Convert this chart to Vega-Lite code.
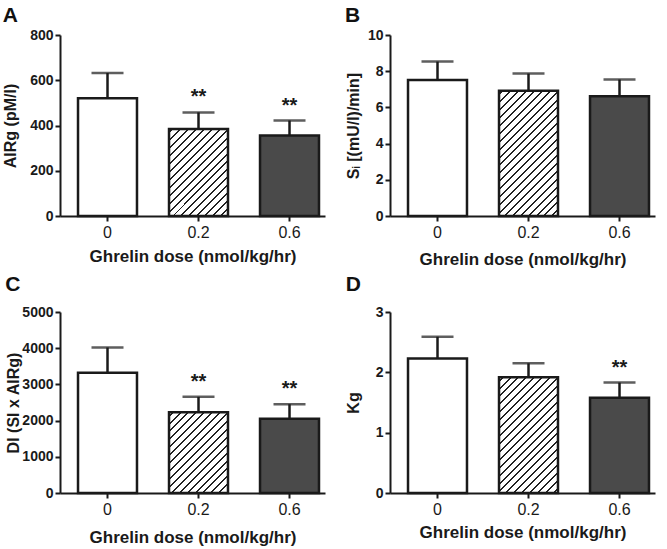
{
  "$schema": "https://vega.github.io/schema/vega-lite/v6.json",
  "padding": {"left": 2, "top": 5, "right": 5, "bottom": 0},
  "params": [
    {"name": "hs", "value": [
      {"offset": 0, "color": "white"},
      {"offset": 0.015, "color": "white"}, {"offset": 0.015, "color": "#222"}, {"offset": 0.025, "color": "#222"}, {"offset": 0.025, "color": "white"},
      {"offset": 0.055, "color": "white"}, {"offset": 0.055, "color": "#222"}, {"offset": 0.065, "color": "#222"}, {"offset": 0.065, "color": "white"},
      {"offset": 0.095, "color": "white"}, {"offset": 0.095, "color": "#222"}, {"offset": 0.105, "color": "#222"}, {"offset": 0.105, "color": "white"},
      {"offset": 0.135, "color": "white"}, {"offset": 0.135, "color": "#222"}, {"offset": 0.145, "color": "#222"}, {"offset": 0.145, "color": "white"},
      {"offset": 0.175, "color": "white"}, {"offset": 0.175, "color": "#222"}, {"offset": 0.185, "color": "#222"}, {"offset": 0.185, "color": "white"},
      {"offset": 0.215, "color": "white"}, {"offset": 0.215, "color": "#222"}, {"offset": 0.225, "color": "#222"}, {"offset": 0.225, "color": "white"},
      {"offset": 0.255, "color": "white"}, {"offset": 0.255, "color": "#222"}, {"offset": 0.265, "color": "#222"}, {"offset": 0.265, "color": "white"},
      {"offset": 0.295, "color": "white"}, {"offset": 0.295, "color": "#222"}, {"offset": 0.305, "color": "#222"}, {"offset": 0.305, "color": "white"},
      {"offset": 0.335, "color": "white"}, {"offset": 0.335, "color": "#222"}, {"offset": 0.345, "color": "#222"}, {"offset": 0.345, "color": "white"},
      {"offset": 0.375, "color": "white"}, {"offset": 0.375, "color": "#222"}, {"offset": 0.385, "color": "#222"}, {"offset": 0.385, "color": "white"},
      {"offset": 0.415, "color": "white"}, {"offset": 0.415, "color": "#222"}, {"offset": 0.425, "color": "#222"}, {"offset": 0.425, "color": "white"},
      {"offset": 0.455, "color": "white"}, {"offset": 0.455, "color": "#222"}, {"offset": 0.465, "color": "#222"}, {"offset": 0.465, "color": "white"},
      {"offset": 0.495, "color": "white"}, {"offset": 0.495, "color": "#222"}, {"offset": 0.505, "color": "#222"}, {"offset": 0.505, "color": "white"},
      {"offset": 0.535, "color": "white"}, {"offset": 0.535, "color": "#222"}, {"offset": 0.545, "color": "#222"}, {"offset": 0.545, "color": "white"},
      {"offset": 0.575, "color": "white"}, {"offset": 0.575, "color": "#222"}, {"offset": 0.585, "color": "#222"}, {"offset": 0.585, "color": "white"},
      {"offset": 0.615, "color": "white"}, {"offset": 0.615, "color": "#222"}, {"offset": 0.625, "color": "#222"}, {"offset": 0.625, "color": "white"},
      {"offset": 0.655, "color": "white"}, {"offset": 0.655, "color": "#222"}, {"offset": 0.665, "color": "#222"}, {"offset": 0.665, "color": "white"},
      {"offset": 0.695, "color": "white"}, {"offset": 0.695, "color": "#222"}, {"offset": 0.705, "color": "#222"}, {"offset": 0.705, "color": "white"},
      {"offset": 0.735, "color": "white"}, {"offset": 0.735, "color": "#222"}, {"offset": 0.745, "color": "#222"}, {"offset": 0.745, "color": "white"},
      {"offset": 0.775, "color": "white"}, {"offset": 0.775, "color": "#222"}, {"offset": 0.785, "color": "#222"}, {"offset": 0.785, "color": "white"},
      {"offset": 0.815, "color": "white"}, {"offset": 0.815, "color": "#222"}, {"offset": 0.825, "color": "#222"}, {"offset": 0.825, "color": "white"},
      {"offset": 0.855, "color": "white"}, {"offset": 0.855, "color": "#222"}, {"offset": 0.865, "color": "#222"}, {"offset": 0.865, "color": "white"},
      {"offset": 0.895, "color": "white"}, {"offset": 0.895, "color": "#222"}, {"offset": 0.905, "color": "#222"}, {"offset": 0.905, "color": "white"},
      {"offset": 0.935, "color": "white"}, {"offset": 0.935, "color": "#222"}, {"offset": 0.945, "color": "#222"}, {"offset": 0.945, "color": "white"},
      {"offset": 0.975, "color": "white"}, {"offset": 0.975, "color": "#222"}, {"offset": 0.985, "color": "#222"}, {"offset": 0.985, "color": "white"},
      {"offset": 1, "color": "white"}
    ]}
  ],
  "config": {
    "font": "Liberation Sans",
    "view": {"stroke": null},
    "title": {"anchor": "start", "frame": "bounds", "fontSize": 21, "fontWeight": "bold", "font": "Liberation Sans", "color": "#111", "offset": 2},
    "axis": {"grid": false, "domainColor": "#1a1a1a", "domainWidth": 2, "tickColor": "#1a1a1a", "tickWidth": 2, "tickSize": 5, "labelColor": "#1a1a1a", "titleColor": "#1a1a1a", "labelFont": "Liberation Sans", "titleFont": "Liberation Sans"}
  },
  "datasets": {
    "d": [
      {"panel": "A", "dose": "0", "value": 520, "err": 632, "sig": ""},
      {"panel": "A", "dose": "0.2", "value": 385, "err": 458, "sig": "**"},
      {"panel": "A", "dose": "0.6", "value": 356, "err": 422, "sig": "**"},
      {"panel": "B", "dose": "0", "value": 7.51, "err": 8.53, "sig": ""},
      {"panel": "B", "dose": "0.2", "value": 6.92, "err": 7.87, "sig": ""},
      {"panel": "B", "dose": "0.6", "value": 6.61, "err": 7.54, "sig": ""},
      {"panel": "C", "dose": "0", "value": 3324, "err": 4020, "sig": ""},
      {"panel": "C", "dose": "0.2", "value": 2234, "err": 2656, "sig": "**"},
      {"panel": "C", "dose": "0.6", "value": 2051, "err": 2454, "sig": "**"},
      {"panel": "D", "dose": "0", "value": 2.23, "err": 2.59, "sig": ""},
      {"panel": "D", "dose": "0.2", "value": 1.92, "err": 2.15, "sig": ""},
      {"panel": "D", "dose": "0.6", "value": 1.58, "err": 1.83, "sig": "**"}
    ]
  },
  "columns": 2,
  "spacing": {"row": 6, "column": 20},
  "concat": [
    {
      "width": 265, "height": 181,
      "title": {"text": "A"},
      "data": {"name": "d"},
      "transform": [{"filter": "datum.panel === 'A'"}],
      "encoding": {
        "x": {"field": "dose", "type": "nominal", "sort": ["0", "0.2", "0.6"], "scale": {"paddingInner": 0.352, "paddingOuter": 0.132, "align": 0.75},
              "axis": {"title": "Ghrelin dose (nmol/kg/hr)", "titlePadding": 8, "labelFontSize": 16, "labelFontWeight": "normal", "labelPadding": 3, "labelAngle": 0, "titleFontSize": 17, "titleFontWeight": "bold"}}
      },
      "layer": [
        {"mark": {"type": "bar", "stroke": "#1a1a1a", "strokeWidth": 2.5},
         "encoding": {
           "y": {"field": "value", "type": "quantitative", "title": "AIRg (pM/l)", "scale": {"domain": [0, 800], "nice": false},
                 "axis": {"values": [0, 200, 400, 600, 800], "format": "d", "titlePadding": 10.8, "labelFontSize": 14, "labelFontWeight": "bold", "labelPadding": 2, "titleFontSize": 16, "titleFontWeight": "bold"}},
           "fill": {"condition": [{"test": "datum.dose === '0'", "value": "white"}, {"test": "datum.dose === '0.6'", "value": "#4a4a4a"}],
                    "value": {"expr": "{gradient: 'linear', x1: 0, y1: 0, x2: 1.0555, y2: 1.5582, stops: hs}"}}
         }},
        {"mark": {"type": "rule", "strokeWidth": 2.5, "color": "#1a1a1a"},
         "encoding": {"y": {"field": "value", "type": "quantitative", "title": "AIRg (pM/l)", "scale": {"domain": [0, 800], "nice": false},
                 "axis": {"values": [0, 200, 400, 600, 800], "format": "d", "titlePadding": 10.8, "labelFontSize": 14, "labelFontWeight": "bold", "labelPadding": 2, "titleFontSize": 16, "titleFontWeight": "bold"}}, "y2": {"field": "err"}}},
        {"mark": {"type": "tick", "size": 32, "thickness": 2.5, "color": "#1a1a1a"},
         "encoding": {"y": {"field": "err", "type": "quantitative", "title": "AIRg (pM/l)", "scale": {"domain": [0, 800], "nice": false},
                 "axis": {"values": [0, 200, 400, 600, 800], "format": "d", "titlePadding": 10.8, "labelFontSize": 14, "labelFontWeight": "bold", "labelPadding": 2, "titleFontSize": 16, "titleFontWeight": "bold"}}}},
        {"mark": {"type": "text", "fontSize": 20, "fontWeight": "bold", "baseline": "alphabetic", "dy": -9, "color": "#1a1a1a"},
         "encoding": {"y": {"field": "err", "type": "quantitative", "title": "AIRg (pM/l)", "scale": {"domain": [0, 800], "nice": false},
                 "axis": {"values": [0, 200, 400, 600, 800], "format": "d", "titlePadding": 10.8, "labelFontSize": 14, "labelFontWeight": "bold", "labelPadding": 2, "titleFontSize": 16, "titleFontWeight": "bold"}}, "text": {"field": "sig"}}}
      ]
    },
    {
      "width": 265, "height": 181,
      "title": {"text": "B"},
      "data": {"name": "d"},
      "transform": [{"filter": "datum.panel === 'B'"}],
      "encoding": {
        "x": {"field": "dose", "type": "nominal", "sort": ["0", "0.2", "0.6"], "scale": {"paddingInner": 0.352, "paddingOuter": 0.132, "align": 0.75},
              "axis": {"title": "Ghrelin dose (nmol/kg/hr)", "titlePadding": 11.5, "labelFontSize": 16, "labelFontWeight": "normal", "labelPadding": 3, "labelAngle": 0, "titleFontSize": 17, "titleFontWeight": "bold"}}
      },
      "layer": [
        {"mark": {"type": "bar", "stroke": "#1a1a1a", "strokeWidth": 2.5},
         "encoding": {
           "y": {"field": "value", "type": "quantitative", "title": "Sᵢ [(mU/l)/min]", "scale": {"domain": [0, 10], "nice": false},
                 "axis": {"values": [0, 2, 4, 6, 8, 10], "format": "d", "titlePadding": 6.4, "labelFontSize": 14, "labelFontWeight": "bold", "labelPadding": 2, "titleFontSize": 16, "titleFontWeight": "bold"}},
           "fill": {"condition": [{"test": "datum.dose === '0'", "value": "white"}, {"test": "datum.dose === '0.6'", "value": "#4a4a4a"}],
                    "value": {"expr": "{gradient: 'linear', x1: 0, y1: 0, x2: 0.6090, y2: 1.2934, stops: hs}"}}
         }},
        {"mark": {"type": "rule", "strokeWidth": 2.5, "color": "#1a1a1a"},
         "encoding": {"y": {"field": "value", "type": "quantitative", "title": "Sᵢ [(mU/l)/min]", "scale": {"domain": [0, 10], "nice": false},
                 "axis": {"values": [0, 2, 4, 6, 8, 10], "format": "d", "titlePadding": 6.4, "labelFontSize": 14, "labelFontWeight": "bold", "labelPadding": 2, "titleFontSize": 16, "titleFontWeight": "bold"}}, "y2": {"field": "err"}}},
        {"mark": {"type": "tick", "size": 32, "thickness": 2.5, "color": "#1a1a1a"},
         "encoding": {"y": {"field": "err", "type": "quantitative", "title": "Sᵢ [(mU/l)/min]", "scale": {"domain": [0, 10], "nice": false},
                 "axis": {"values": [0, 2, 4, 6, 8, 10], "format": "d", "titlePadding": 6.4, "labelFontSize": 14, "labelFontWeight": "bold", "labelPadding": 2, "titleFontSize": 16, "titleFontWeight": "bold"}}}},
        {"mark": {"type": "text", "fontSize": 20, "fontWeight": "bold", "baseline": "alphabetic", "dy": -9, "color": "#1a1a1a"},
         "encoding": {"y": {"field": "err", "type": "quantitative", "title": "Sᵢ [(mU/l)/min]", "scale": {"domain": [0, 10], "nice": false},
                 "axis": {"values": [0, 2, 4, 6, 8, 10], "format": "d", "titlePadding": 6.4, "labelFontSize": 14, "labelFontWeight": "bold", "labelPadding": 2, "titleFontSize": 16, "titleFontWeight": "bold"}}, "text": {"field": "sig"}}}
      ]
    },
    {
      "width": 265, "height": 181,
      "title": {"text": "C", "offset": 10},
      "data": {"name": "d"},
      "transform": [{"filter": "datum.panel === 'C'"}],
      "encoding": {
        "x": {"field": "dose", "type": "nominal", "sort": ["0", "0.2", "0.6"], "scale": {"paddingInner": 0.352, "paddingOuter": 0.132, "align": 0.75},
              "axis": {"title": "Ghrelin dose (nmol/kg/hr)", "titlePadding": 12.5, "labelFontSize": 16, "labelFontWeight": "normal", "labelPadding": 3, "labelAngle": 0, "titleFontSize": 17, "titleFontWeight": "bold"}}
      },
      "layer": [
        {"mark": {"type": "bar", "stroke": "#1a1a1a", "strokeWidth": 2.5},
         "encoding": {
           "y": {"field": "value", "type": "quantitative", "title": "DI (SI x AIRg)", "scale": {"domain": [0, 5000], "nice": false},
                 "axis": {"values": [0, 1000, 2000, 3000, 4000, 5000], "format": "d", "titlePadding": 0.5, "labelFontSize": 14, "labelFontWeight": "bold", "labelPadding": 2, "titleFontSize": 16, "titleFontWeight": "bold"}},
           "fill": {"condition": [{"test": "datum.dose === '0'", "value": "white"}, {"test": "datum.dose === '0.6'", "value": "#4a4a4a"}],
                    "value": {"expr": "{gradient: 'linear', x1: 0, y1: 0, x2: 1.1651, y2: 1.5976, stops: hs}"}}
         }},
        {"mark": {"type": "rule", "strokeWidth": 2.5, "color": "#1a1a1a"},
         "encoding": {"y": {"field": "value", "type": "quantitative", "title": "DI (SI x AIRg)", "scale": {"domain": [0, 5000], "nice": false},
                 "axis": {"values": [0, 1000, 2000, 3000, 4000, 5000], "format": "d", "titlePadding": 0.5, "labelFontSize": 14, "labelFontWeight": "bold", "labelPadding": 2, "titleFontSize": 16, "titleFontWeight": "bold"}}, "y2": {"field": "err"}}},
        {"mark": {"type": "tick", "size": 32, "thickness": 2.5, "color": "#1a1a1a"},
         "encoding": {"y": {"field": "err", "type": "quantitative", "title": "DI (SI x AIRg)", "scale": {"domain": [0, 5000], "nice": false},
                 "axis": {"values": [0, 1000, 2000, 3000, 4000, 5000], "format": "d", "titlePadding": 0.5, "labelFontSize": 14, "labelFontWeight": "bold", "labelPadding": 2, "titleFontSize": 16, "titleFontWeight": "bold"}}}},
        {"mark": {"type": "text", "fontSize": 20, "fontWeight": "bold", "baseline": "alphabetic", "dy": -9, "color": "#1a1a1a"},
         "encoding": {"y": {"field": "err", "type": "quantitative", "title": "DI (SI x AIRg)", "scale": {"domain": [0, 5000], "nice": false},
                 "axis": {"values": [0, 1000, 2000, 3000, 4000, 5000], "format": "d", "titlePadding": 0.5, "labelFontSize": 14, "labelFontWeight": "bold", "labelPadding": 2, "titleFontSize": 16, "titleFontWeight": "bold"}}, "text": {"field": "sig"}}}
      ]
    },
    {
      "width": 265, "height": 181,
      "title": {"text": "D", "offset": 10},
      "data": {"name": "d"},
      "transform": [{"filter": "datum.panel === 'D'"}],
      "encoding": {
        "x": {"field": "dose", "type": "nominal", "sort": ["0", "0.2", "0.6"], "scale": {"paddingInner": 0.352, "paddingOuter": 0.132, "align": 0.75},
              "axis": {"title": "Ghrelin dose (nmol/kg/hr)", "titlePadding": 7.5, "labelFontSize": 16, "labelFontWeight": "normal", "labelPadding": 3, "labelAngle": 0, "titleFontSize": 17, "titleFontWeight": "bold"}}
      },
      "layer": [
        {"mark": {"type": "bar", "stroke": "#1a1a1a", "strokeWidth": 2.5},
         "encoding": {
           "y": {"field": "value", "type": "quantitative", "title": "Kg", "scale": {"domain": [0, 3], "nice": false},
                 "axis": {"values": [0, 1, 2, 3], "format": "d", "titlePadding": 13.4, "labelFontSize": 14, "labelFontWeight": "bold", "labelPadding": 2, "titleFontSize": 16, "titleFontWeight": "bold"}},
           "fill": {"condition": [{"test": "datum.dose === '0'", "value": "white"}, {"test": "datum.dose === '0.6'", "value": "#4a4a4a"}],
                    "value": {"expr": "{gradient: 'linear', x1: 0, y1: 0, x2: 0.6906, y2: 1.3567, stops: hs}"}}
         }},
        {"mark": {"type": "rule", "strokeWidth": 2.5, "color": "#1a1a1a"},
         "encoding": {"y": {"field": "value", "type": "quantitative", "title": "Kg", "scale": {"domain": [0, 3], "nice": false},
                 "axis": {"values": [0, 1, 2, 3], "format": "d", "titlePadding": 13.4, "labelFontSize": 14, "labelFontWeight": "bold", "labelPadding": 2, "titleFontSize": 16, "titleFontWeight": "bold"}}, "y2": {"field": "err"}}},
        {"mark": {"type": "tick", "size": 32, "thickness": 2.5, "color": "#1a1a1a"},
         "encoding": {"y": {"field": "err", "type": "quantitative", "title": "Kg", "scale": {"domain": [0, 3], "nice": false},
                 "axis": {"values": [0, 1, 2, 3], "format": "d", "titlePadding": 13.4, "labelFontSize": 14, "labelFontWeight": "bold", "labelPadding": 2, "titleFontSize": 16, "titleFontWeight": "bold"}}}},
        {"mark": {"type": "text", "fontSize": 20, "fontWeight": "bold", "baseline": "alphabetic", "dy": -9, "color": "#1a1a1a"},
         "encoding": {"y": {"field": "err", "type": "quantitative", "title": "Kg", "scale": {"domain": [0, 3], "nice": false},
                 "axis": {"values": [0, 1, 2, 3], "format": "d", "titlePadding": 13.4, "labelFontSize": 14, "labelFontWeight": "bold", "labelPadding": 2, "titleFontSize": 16, "titleFontWeight": "bold"}}, "text": {"field": "sig"}}}
      ]
    }
  ]
}
